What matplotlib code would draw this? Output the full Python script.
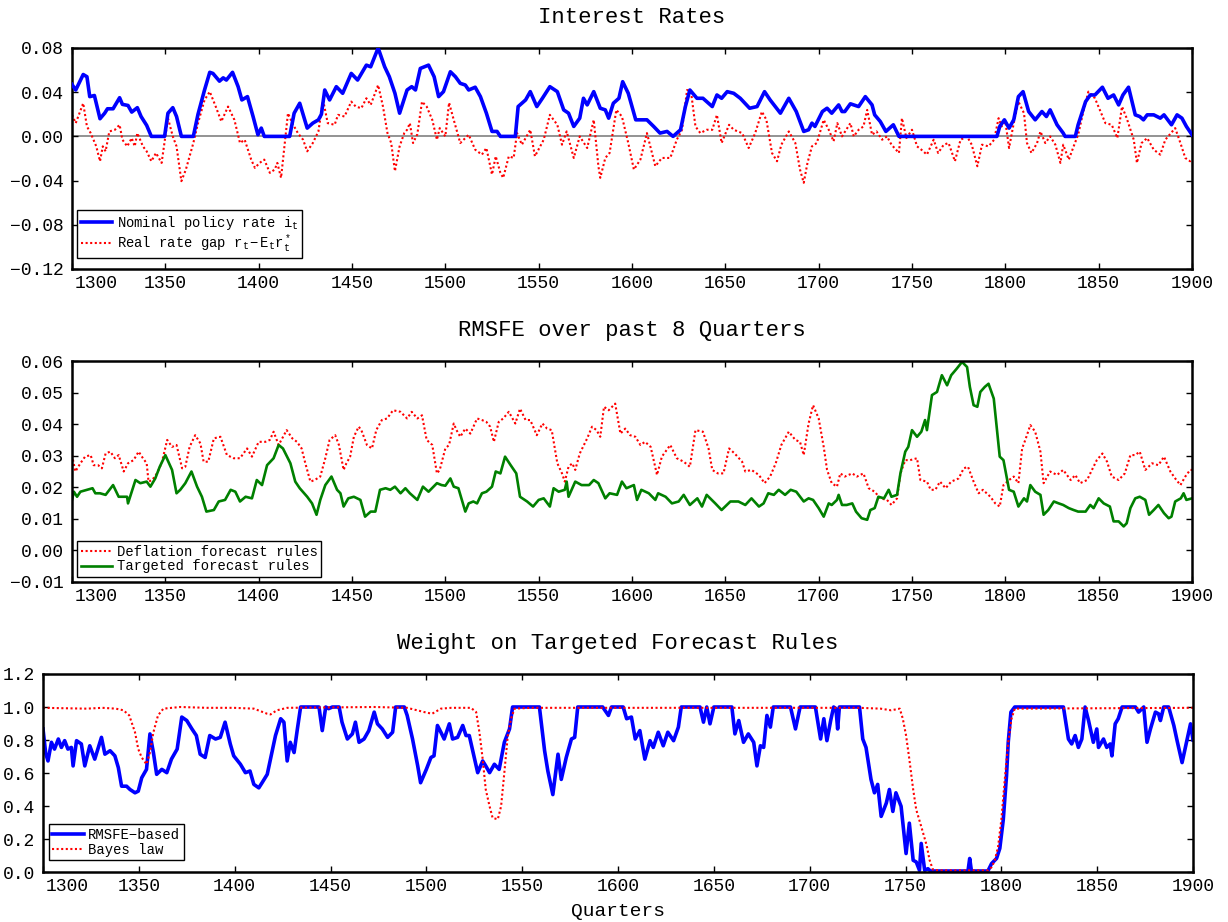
import numpy as np
import matplotlib
matplotlib.use("Agg")
import matplotlib.pyplot as plt
from matplotlib.transforms import ScaledTranslation

# ---- Interest rates panel ----
rate_q = [1300, 1302, 1306, 1308, 1309.5, 1312, 1315, 1317.5, 1319, 1322, 1325.5, 1327, 1330, 1332, 1335, 1337,
          1340, 1342.5, 1349.6, 1351.4, 1354, 1356, 1358.6, 1365, 1367.5, 1371, 1373.8, 1375.5, 1379, 1381, 1382.7,
          1386, 1389, 1391, 1394, 1397, 1399.6, 1401.4, 1403, 1416.6, 1419, 1422, 1426, 1429, 1432, 1433.6, 1435.4,
          1438, 1441.6, 1445, 1449.6, 1453, 1457.7, 1460, 1464, 1467.5, 1470, 1473, 1475.5, 1479.5, 1482, 1484,
          1486.6, 1491, 1494, 1496.4, 1499, 1502.7, 1505.4, 1508, 1510.7, 1512.5, 1516, 1518.8, 1522, 1525, 1527.7,
          1529.5, 1537.5, 1539, 1543, 1545.5, 1549, 1552, 1556, 1560, 1563.4, 1566, 1568.8, 1572, 1574, 1576, 1579.5,
          1583, 1585.7, 1587.5, 1590, 1593, 1595, 1598, 1602, 1608, 1611.6, 1615, 1618.8, 1622, 1626, 1628.6, 1631,
          1634.8, 1638, 1643, 1645.5, 1648, 1651, 1654.5, 1658, 1663, 1667, 1671, 1674, 1679.5, 1684, 1688, 1692,
          1694.6, 1696.4, 1698, 1702, 1704.5, 1707, 1710.7, 1712.5, 1714, 1717, 1721.4, 1725, 1728.6, 1730, 1733,
          1736, 1740, 1743, 1795.5, 1797, 1799.5, 1802, 1804.5, 1807, 1809.5, 1812.5, 1816, 1819.6, 1822, 1824,
          1827.7, 1831, 1832, 1837.5, 1839, 1843, 1845.5, 1848, 1852, 1855, 1858, 1860.7, 1863, 1866, 1869.6, 1872,
          1874, 1876, 1879.5, 1883, 1885, 1889, 1892, 1894.6, 1897, 1900]
rate_v = [.047, .042, .056, .054, .036, .037, .016, .021, .025, .025, .035, .029, .028, .022, .026, .018,
          .010, 0, 0, .021, .026, .018, 0, 0, .020, .042, .058, .057, .050, .053, .051,
          .058, .045, .033, .036, .018, .0015, .0075, 0, 0, .021, .030, .0075, .012, .015, .020, .042,
          .033, .045, .039, .057, .051, .0645, .063, .080, .063, .054, .039, .021, .042, .045, .042,
          .0615, .0645, .054, .036, .0405, .0585, .054, .048, .0465, .042, .0445, .036, .021, .0045, .0045,
          0, 0, .027, .033, .0405, .027, .0345, .045, .0405, .024, .021, .009, .0165, .0345, .0285, .0405,
          .0255, .024, .0165, .030, .0345, .0495, .039, .015, .015, .009, .003, .0045, 0, .006, .027, .042,
          .0345, .0345, .027, .0375, .0345, .0405, .039, .0345, .0255, .027, .0405, .033, .021, .0345, .0225, .0045,
          .006, .012, .009, .0225, .0255, .021, .0285, .0225, .0225, .0295, .027, .036, .0285, .0195, .0135,
          .0045, .0105, 0, 0, .009, .015, .0075, .015, .036, .0405, .0225, .015, .0225, .018, .024,
          .0105, .003, 0, 0, .0105, .0315, .0375, .0375, .0445, .0345, .0375, .0285, .0375, .0445, .0195, .018,
          .015, .0195, .0195, .0165, .0195, .0105, .0195, .0165, .009, .0015]

gap_q = [1300, 1302, 1306, 1308, 1310, 1313, 1315, 1316.5, 1318, 1320, 1323, 1325.5, 1327, 1329.6, 1332, 1333.6,
         1335, 1338, 1340, 1342.5, 1345, 1348, 1351.4, 1354, 1356, 1358.6, 1361, 1365, 1367.5, 1371, 1373.8, 1377,
         1380, 1383.6, 1387, 1390, 1392.5, 1396, 1398, 1400.5, 1403, 1406, 1408.6, 1410, 1412, 1415.7, 1418, 1421,
         1423.8, 1426, 1429, 1432, 1434.5, 1437, 1440.7, 1442.5, 1446, 1449.6, 1452, 1455, 1457.7, 1460, 1464,
         1466.6, 1469, 1471, 1473, 1475.5, 1478, 1479.5, 1481, 1482.7, 1485, 1487.5, 1490, 1493, 1495.5, 1497, 1500,
         1502, 1504.5, 1508, 1512.5, 1516, 1519.6, 1522, 1525, 1527, 1529.5, 1531, 1534, 1536.6, 1538.4, 1541,
         1545.5, 1548, 1552.7, 1556, 1560, 1562.5, 1565, 1568.8, 1572, 1576, 1579.5, 1582, 1583, 1585.7, 1588,
         1591.6, 1594.6, 1598, 1601, 1604.5, 1608, 1612.5, 1616, 1620.5, 1624, 1626.8, 1629.5, 1631.6, 1634, 1636.6,
         1640, 1643, 1645.5, 1648, 1652, 1654.5, 1659, 1662.5, 1666, 1669.6, 1672, 1675, 1677.7, 1680, 1684, 1687.5,
         1690, 1692, 1694, 1696.4, 1699, 1702.7, 1705.4, 1708, 1710, 1712.5, 1717, 1718.8, 1721.4, 1724, 1726,
         1728.6, 1731, 1734, 1736.6, 1739, 1743, 1744.6, 1747, 1750, 1752.7, 1755, 1758, 1761.6, 1764, 1767, 1769.6,
         1773, 1776, 1779.5, 1782, 1785, 1787.5, 1791, 1794, 1796.4, 1798, 1800, 1802, 1804.5, 1807, 1810, 1811.6,
         1814, 1817, 1818.8, 1821.4, 1824, 1826.8, 1829.5, 1831, 1834, 1836.6, 1839, 1842, 1844.5, 1848, 1851,
         1853.6, 1857, 1860, 1862.5, 1865, 1868.8, 1870.5, 1873, 1876, 1879.5, 1883, 1885.7, 1888, 1891, 1893.8,
         1896.4, 1899, 1900]
gap_v = [.0195, .012, .030, .009, .003, -.009, -.0225, -.009, -.0135, .0045, .006, .0105, -.003, -.009, -.0015, -.009,
         .003, -.009, -.0135, -.0225, -.015, -.024, .0165, 0, -.009, -.0405, -.030, -.006, .012, .033, .0405, .027,
         .0135, .027, .015, -.006, -.003, -.021, -.0285, -.024, -.021, -.033, -.030, -.024, -.0375, .021, .012, .003,
         -.003, -.0135, -.006, .0045, .033, .012, .0105, .0195, .018, .0315, .027, .0255, .0345, .0285, .0465,
         .027, .003, -.006, -.0315, -.009, .003, .006, .012, -.006, .002, .0315, .027, .015, -.003, .0075, 0,
         .0305, .015, -.006, .0015, -.012, -.0165, -.0105, -.0345, -.018, -.033, -.0375, -.018, -.0195, .003, -.0075,
         .006, -.018, -.003, .0195, .0105, -.0075, .0045, -.0195, 0, -.0105, .015, -.027, -.0375, -.0195, -.015,
         .024, .018, -.006, -.030, -.021, .003, -.027, -.0195, -.0195, -.003, .006, .042, .0405, .009, .003,
         .006, .006, .0195, -.006, .0105, .006, .003, -.0105, .003, .0225, .015, -.015, -.0225, -.0075, .0045, -.006,
         -.030, -.042, -.024, -.009, -.006, .015, .006, -.0045, .012, 0, .012, 0, .006, .009, .024,
         .0015, .0045, -.003, 0, -.0075, -.015, .0165, -.0015, .006, -.009, -.012, -.0165, -.003, -.015, -.0075, -.006,
         -.0225, -.003, 0, -.0075, -.027, -.0075, -.009, -.003, .0165, .009, .0135, -.0105, .012, .0315, .021, -.006,
         -.015, -.006, .0045, -.006, 0, -.0075, -.024, -.0075, -.021, -.009, .0015, .024, .0405, .0345, .0225,
         .012, .0105, -.0015, .027, .0165, -.003, -.024, -.006, -.0015, -.012, -.0165, -.003, .0015, .0075, -.006,
         -.0195, -.0225, -.021]

# ---- RMSFE panel ----
defl_q = [1300, 1301.8, 1304.5, 1307, 1310, 1311.6, 1314, 1316, 1318, 1320.5, 1323, 1325, 1327.7, 1330, 1333, 1335.7,
          1338, 1340, 1341, 1343, 1345.5, 1348, 1351, 1353.6, 1356, 1359, 1360.7, 1363, 1366, 1368.8, 1370.5, 1373,
          1376, 1379.5, 1383, 1386.6, 1390, 1393.8, 1396.4, 1400, 1403.6, 1406, 1408, 1410.7, 1415, 1418, 1420.5,
          1423, 1425, 1427.7, 1430, 1433, 1435.7, 1438, 1441, 1443, 1445.5, 1447, 1449, 1451, 1453.6, 1455, 1458,
          1460.7, 1463, 1466, 1468.8, 1472, 1476, 1479.5, 1482, 1485, 1487.5, 1490, 1493, 1495.5, 1497, 1500, 1502,
          1504.5, 1506, 1508, 1510.7, 1513.4, 1517, 1519.6, 1522, 1524, 1526, 1528.6, 1531, 1534, 1537.5, 1540, 1543,
          1545.5, 1549, 1552, 1554.5, 1557, 1560, 1562.5, 1564, 1566, 1568, 1569.6, 1572, 1576, 1578.6, 1581, 1583,
          1585, 1587.5, 1591, 1593.8, 1596.4, 1599, 1601.8, 1604.5, 1607, 1610, 1613.4, 1616, 1620.5, 1624, 1627.7,
          1631, 1634, 1638, 1641, 1643, 1646, 1649, 1652, 1655, 1659, 1660.7, 1664, 1668, 1671, 1674, 1677, 1680,
          1684, 1687.5, 1690, 1692, 1694.6, 1697, 1700, 1702.7, 1704.5, 1707, 1709.8, 1711.6, 1714, 1718, 1720.5,
          1724, 1726.8, 1730, 1733, 1736.6, 1739, 1742, 1743.8, 1746.4, 1749, 1752.7, 1754.5, 1758, 1760, 1762.5,
          1765, 1768, 1771, 1775, 1777.7, 1780, 1783, 1785.7, 1788, 1792, 1794.6, 1797, 1799, 1802, 1804.5, 1807,
          1809, 1810.7, 1813.4, 1816, 1818.8, 1820.5, 1824, 1827.7, 1831, 1835, 1837.5, 1840, 1843.8, 1846.4, 1849,
          1852, 1854.5, 1857, 1860.7, 1864, 1867, 1869.6, 1872, 1875, 1878.6, 1882, 1885, 1888.4, 1891, 1893.8,
          1896.4, 1899, 1900]
defl_v = [.0302, .025, .0276, .0297, .0302, .027, .027, .026, .0307, .0313, .0292, .0302, .025, .0276, .0286, .0313,
          .0292, .0276, .0218, .0223, .0244, .0276, .035, .0328, .0334, .026, .0265, .0328, .0365, .0339, .0281, .0281,
          .0355, .036, .0302, .0292, .0292, .0323, .0297, .0344, .0344, .035, .0376, .0334, .0381, .0355, .0344,
          .0323, .0276, .0218, .0223, .0234, .0292, .035, .0365, .0334, .0255, .0276, .0297, .036, .0392, .0381, .0334,
          .0323, .0381, .0413, .0418, .0444, .0439, .0418, .0439, .0418, .0428, .035, .0334, .0244, .0255, .0323, .0334,
          .0402, .0381, .036, .0386, .037, .0418, .0413, .0407, .0392, .0344, .0407, .0418, .0439, .0402, .0449, .0413,
          .0413, .0365, .0402, .0386, .0381, .0276, .0244, .0218, .0265, .0276, .0255, .0307, .0355, .0392, .0381, .036,
          .0455, .0444, .0465, .037, .0386, .0365, .036, .0334, .0344, .0328, .0239, .0297, .0334, .0292, .0281,
          .0265, .0381, .0376, .0323, .0255, .0244, .0244, .0323, .0307, .0281, .025, .0255, .0239, .0213, .0234, .0276,
          .0334, .0376, .035, .0344, .0302, .0402, .046, .0418, .0328, .0255, .0213, .0202, .0244, .0234, .0244, .0234,
          .0244, .0197, .0186, .0165, .016, .0144, .0165, .0244, .0286, .0286, .0292, .0223, .0218, .0192, .0192,
          .0218, .0197, .0218, .0228, .026, .0265, .0218, .0181, .0192, .017, .0149, .0139, .0207, .0223, .0234, .0213,
          .0323, .035, .0397, .0376, .0313, .0213, .025, .0239, .0255, .0223, .0239, .0213, .0223, .0255, .0286,
          .0307, .0281, .0234, .0223, .0244, .0302, .0302, .0313, .0255, .0276, .027, .0297, .025, .0228, .0207,
          .0234, .0255, .0255]

targ_q = [1300, 1301, 1302.7, 1304.5, 1308, 1311, 1312.5, 1315, 1318, 1322, 1325, 1329.5, 1330, 1332, 1334, 1336.6,
          1340, 1342, 1344.6, 1347, 1350, 1353.6, 1356, 1358, 1360.7, 1364, 1367, 1369.6, 1372, 1376, 1378.6, 1382,
          1385, 1387.5, 1390, 1393, 1396.4, 1399, 1401.8, 1404.5, 1408, 1410.7, 1413, 1417, 1419.6, 1422, 1426,
          1428.6, 1431, 1433, 1435.7, 1439, 1442, 1443.8, 1445.5, 1448, 1451, 1454.5, 1457, 1460, 1462.5, 1465, 1468,
          1470.5, 1473, 1476, 1478.6, 1481, 1485, 1488, 1491, 1495.5, 1498, 1500, 1502.7, 1504.5, 1507, 1510.7,
          1512.5, 1515, 1517, 1519.6, 1522, 1525, 1527, 1529.5, 1532, 1535, 1538, 1540, 1543.8, 1547, 1550, 1552.7,
          1556, 1558, 1560.7, 1564, 1565, 1566, 1569.6, 1573, 1577, 1579.5, 1582, 1585.7, 1588, 1592, 1594.6, 1597,
          1601, 1602.7, 1605, 1609, 1612.5, 1614, 1618, 1621.4, 1625, 1627.7, 1631, 1635, 1637.5, 1640, 1644.6, 1648,
          1652.7, 1657, 1660.7, 1664, 1668, 1670.5, 1673, 1676, 1678.6, 1682, 1685, 1688, 1692, 1694.6, 1697, 1700,
          1702.7, 1705.4, 1707, 1709.8, 1710.7, 1712.5, 1715, 1718, 1720, 1723, 1726, 1727.7, 1730, 1732, 1735,
          1737.5, 1739, 1742, 1743.8, 1746.4, 1748, 1750, 1752.7, 1755, 1757, 1758, 1760.7, 1763.4, 1766, 1768.8,
          1771, 1774, 1776.8, 1779.5, 1781, 1783, 1785, 1786.6, 1789, 1791, 1793.8, 1797, 1799, 1802, 1804.5, 1807,
          1810, 1811.6, 1813.4, 1816, 1818.8, 1820.5, 1823, 1826, 1828.6, 1831, 1834, 1836.6, 1839, 1843, 1845.5,
          1847.3, 1850, 1852.7, 1856, 1858, 1860.7, 1863.4, 1865, 1867, 1869.6, 1872, 1875, 1877, 1879.5, 1882, 1885,
          1887.5, 1889, 1891, 1894, 1895.5, 1897, 1900]
targ_v = [.016, .0186, .017, .0186, .0192, .0197, .0181, .0181, .0176, .0207, .017, .017, .0149, .0186, .0223, .0213,
          .0218, .0202, .0228, .0265, .0302, .0255, .0181, .0192, .0213, .025, .0202, .017, .0123, .0128, .0155, .016,
          .0192, .0186, .0155, .017, .0165, .0223, .0207, .027, .0292, .0334, .0323, .0276, .0218, .0197, .017,
          .0149, .0113, .016, .0207, .0234, .0192, .0181, .0139, .0165, .017, .016, .0107, .0123, .0123, .0192, .0197,
          .0192, .0202, .0181, .0197, .0181, .016, .0202, .0186, .0213, .0207, .0205, .0228, .0202, .0197, .0123,
          .0149, .0155, .0149, .0181, .0186, .0202, .025, .0244, .0297, .027, .0244, .017, .0155, .0139, .016, .0165,
          .0139, .0197, .0186, .0192, .0218, .017, .0218, .0207, .0207, .0223, .0213, .0165, .0181, .0176, .0218, .0197,
          .0207, .016, .0192, .0181, .016, .0181, .017, .0149, .0155, .0176, .0144, .0165, .0139, .0176, .0149, .0128,
          .0155, .0155, .0144, .0165, .0139, .0149, .0181, .0176, .0192, .0176, .0192, .0186, .0155, .0165, .016, .0134,
          .0107, .0149, .0144, .016, .0176, .0144, .0144, .0149, .0123, .0102, .0097, .0128, .0134, .017, .0165,
          .0192, .017, .0176, .0244, .0313, .0328, .0381, .036, .0376, .0413, .0381, .0492, .0502, .0555, .0523,
          .0555, .0576, .0597, .0581, .0518, .046, .0455, .0502, .0518, .0528, .0481, .0297, .0286, .0192, .0186, .0139,
          .0165, .0155, .0207, .0186, .0176, .0113, .0128, .0155, .0149, .0144, .0134, .0128, .0123, .0123, .0144,
          .0134, .0165, .0149, .0139, .0092, .0092, .0076, .0086, .0134, .0165, .017, .016, .0113, .0128, .0144, .0118,
          .0102, .0107, .0155, .0165, .0181, .016, .0165]

# ---- Weight panel ----
wrm_q = [1300, 1301.4, 1302.6, 1304.4, 1306, 1308, 1309.6, 1311.3, 1313, 1314.8, 1315.7, 1317.5, 1320, 1321.8, 1324.4,
         1327, 1330.5, 1332.3, 1335, 1337.5, 1339.3, 1341, 1343.6, 1345.4, 1348, 1349.7, 1351.5, 1354, 1355.8, 1357.6,
         1359.3, 1362, 1364.6, 1367, 1370, 1372.4, 1375, 1377.7, 1380, 1382, 1384.6, 1387, 1390, 1392.5, 1395, 1397.7,
         1399.5, 1403, 1405.6, 1408, 1410, 1412.6, 1414.3, 1417, 1418.7, 1421.3, 1424, 1425.7, 1427.4, 1429, 1431,
         1432.6, 1434.4, 1444, 1445.7, 1447.5, 1449, 1451, 1454.5, 1456, 1458.8, 1461.4, 1463, 1464.9, 1467.5, 1470,
         1472.8, 1474.5, 1477, 1479.8, 1482.4, 1484, 1488.5, 1490, 1492.8, 1495.5, 1497, 1500, 1502.4, 1504, 1505.8,
         1507.6, 1509.3, 1512, 1513.7, 1516.3, 1519, 1520.7, 1522.4, 1524, 1526.8, 1529.4, 1531, 1533, 1535.5, 1538,
         1540.7, 1543.4, 1545, 1559, 1561.7, 1563.4, 1566, 1568.7, 1570.4, 1573, 1575.7, 1577.4, 1579, 1592, 1595,
         1596.6, 1602.7, 1604.5, 1607, 1609, 1611.4, 1614, 1616.7, 1618.4, 1621, 1623.6, 1626, 1629, 1631.5, 1633,
         1642.8, 1644.6, 1646.3, 1648, 1650, 1659.4, 1661, 1663, 1665.5, 1668, 1670.8, 1672.5, 1674.3, 1676, 1677.7,
         1679.5, 1681, 1690, 1692.6, 1695, 1703, 1705.7, 1707.4, 1709, 1711, 1712.5, 1713.7, 1714.6, 1715.5, 1726,
         1727.7, 1729.4, 1732, 1733.8, 1735.5, 1737.3, 1740, 1741.6, 1743.4, 1745, 1747.7, 1750.3, 1752, 1754,
         1755.6, 1757.3, 1758.2, 1760, 1761.7, 1763, 1782.6, 1783.5, 1784.4, 1793, 1794.9, 1797.5, 1799.2, 1801,
         1802.7, 1803.6, 1805, 1807, 1832.4, 1835, 1836.7, 1838.5, 1840.2, 1842, 1843.7, 1845.5, 1848, 1849.8, 1850.7,
         1853.3, 1855, 1856.8, 1857.7, 1859.4, 1861, 1863, 1870, 1871.6, 1874.3, 1876, 1877.8, 1880.4, 1882, 1883,
         1884.7, 1887.3, 1890, 1891.7, 1894.3, 1897, 1898.7, 1900]
wrm_v = [.867, .72, .673, .786, .745, .806, .755, .796, .745, .755, .643, .796, .776, .643, .765,
         .684, .816, .714, .735, .704, .633, .52, .52, .50, .48, .49, .571, .622, .837, .724,
         .592, .622, .602, .684, .745, .939, .918, .867, .827, .714, .694, .827, .806, .816, .908, .776,
         .704, .653, .602, .612, .531, .51, .541, .592, .684, .827, .929, .908, .673, .786, .724,
         .857, 1.0, 1.0, .857, 1.0, .99, 1.0, 1.0, .908, .806, .837, .908, .786, .806, .857,
         .969, .898, .867, .816, .847, 1.0, 1.0, .949, .806, .643, .541, .622, .694, .704, .888,
         .847, .806, .898, .806, .816, .888, .827, .827, .745, .602, .673, .643, .602, .653, .622,
         .786, .867, 1.0, 1.0, .735, .612, .469, .714, .561, .694, .806, .816, 1.0, 1.0, .949,
         1.0, 1.0, .929, .939, .806, .857, .684, .796, .755, .847, .765, .847, .796, .878, 1.0,
         1.0, .908, 1.0, .898, 1.0, 1.0, .837, .918, .786, .837, .786, .643, .765, .755, .949,
         .878, 1.0, 1.0, .867, 1.0, 1.0, .806, .929, .796, .92, 1.0, .99, .867, 1.0, 1.0,
         .806, .755, .561, .48, .531, .337, .418, .50, .367, .48, .398, .112, .296, .071,
         .061, .01, .173, .01, .02, .006, .006, .082, .006, .006, .051, .082, .143, .316,
         .582, .786, .969, 1.0, 1.0, .806, .776, .827, .755, .806, 1.0, .918, .786, .867, .755,
         .806, .755, .776, .704, .898, .929, 1.0, 1.0, .969, 1.0, .786, .867, .969, .959, .918,
         1.0, 1.0, .888, .796, .663, .806, .898, .80]

bayes_q = [1300, 1322.7, 1331, 1338, 1342, 1345, 1348, 1349.7, 1351.5, 1354, 1355.8, 1357.6, 1360, 1362.8, 1371.6,
           1385.5, 1399.5, 1410, 1417, 1418.7, 1422, 1427.4, 1472.8, 1490, 1499, 1503, 1507.6, 1513, 1523.3, 1526,
           1527.7, 1529.4, 1531, 1533, 1534.6, 1537.3, 1539, 1540.7, 1542.5, 1544.2, 1546, 1554.7, 1700, 1726, 1737,
           1742.5, 1747, 1748.6, 1750.3, 1752, 1754, 1755.6, 1758.2, 1761, 1762.6, 1764.3, 1767, 1793, 1795, 1796.6,
           1798.3, 1800, 1801.8, 1803.6, 1805.3, 1807, 1900]
bayes_v = [.995, .99, .995, .99, .98, .949, .847, .745, .694, .653, .724, .847, .949, .99, 1.0,
           .995, .995, .99, .959, .955, .98, .995, 1.0, .995, .969, .959, .99, .995, .995, .969,
           .847, .684, .50, .398, .327, .32, .398, .602, .827, .929, .99, .995, .995, .995, .99,
           .98, .99, .929, .827, .684, .50, .378, .276, .163, .071, .014, .01, .01, .03, .071,
           .153, .316, .561, .786, .929, .99, .995]

xticks = list(range(1300, 1901, 50))
blue, red, green = "#0000ff", "#ff0000", "#008000"
dots = (0, (1, 1.2))

plt.rcParams.update({
    "font.family": ["Liberation Mono", "DejaVu Sans Mono"],
    "mathtext.fontset": "custom",
    "mathtext.rm": "Liberation Mono",
    "mathtext.it": "Liberation Mono",
    "mathtext.default": "rm",
    "axes.linewidth": 1.8,
    "xtick.direction": "in", "ytick.direction": "in",
    "xtick.top": True, "ytick.right": True,
    "xtick.major.size": 4, "ytick.major.size": 4,
    "xtick.major.width": 1.0, "ytick.major.width": 1.0,
    "xtick.labelsize": 13, "ytick.labelsize": 13,
    "xtick.major.pad": 4, "ytick.major.pad": 6,
})

W, H = 1228, 922
fig = plt.figure(figsize=(W / 100, H / 100), dpi=100)


def box(l, t, r, b):
    return [l / W, 1 - b / H, (r - l) / W, (b - t) / H]


def fmt(vals, nd):
    out = []
    for v in vals:
        s = f"{v:.{nd}f}"
        if abs(v) < 1e-9:
            s = f"{0:.{nd}f}"
        out.append(s.replace("-", "\u2212"))
    return out


ax1 = fig.add_axes(box(72, 48, 1192, 269))
ax2 = fig.add_axes(box(72, 361, 1192, 582))
ax3 = fig.add_axes(box(43, 674, 1193, 872))

ax1.axhline(0, color="#808080", lw=1.2, zorder=1)
ax1.plot(rate_q, rate_v, color=blue, lw=2.6, label="Nominal policy rate $i_t$", zorder=3)
ax1.plot(gap_q, gap_v, color=red, lw=1.5, ls=dots, label="Real rate gap $r_t\u2212E_tr_t^*$", zorder=2)
ax1.set_ylim(-0.12, 0.08)
yt1 = np.arange(-0.12, 0.081, 0.04)
ax1.set_yticks(yt1)
ax1.set_yticklabels(fmt(yt1, 2))
ax1.set_title("Interest Rates", fontsize=16, pad=18)

ax2.plot(defl_q, defl_v, color=red, lw=1.5, ls=dots, label="Deflation forecast rules")
ax2.plot(targ_q, targ_v, color=green, lw=1.9, label="Targeted forecast rules")
ax2.set_ylim(-0.01, 0.06)
yt2 = np.arange(-0.01, 0.061, 0.01)
ax2.set_yticks(yt2)
ax2.set_yticklabels(fmt(yt2, 2))
ax2.set_title("RMSFE over past 8 Quarters", fontsize=16, pad=18)

ax3.plot(wrm_q, wrm_v, color=blue, lw=2.6, label="RMSFE\u2212based")
ax3.plot(bayes_q, bayes_v, color=red, lw=1.5, ls=dots, label="Bayes law")
ax3.set_ylim(0, 1.2)
yt3 = np.arange(0, 1.21, 0.2)
ax3.set_yticks(yt3)
ax3.set_yticklabels(fmt(yt3, 1))
ax3.set_title("Weight on Targeted Forecast Rules", fontsize=16, pad=18)
ax3.set_xlabel("Quarters", fontsize=14, labelpad=6)

legpos = {ax1: (0.0045, 0.05), ax2: (0.0045, 0.023), ax3: (0.005, 0.06)}
for ax in (ax1, ax2, ax3):
    ax.set_xlim(1300, 1900)
    ax.set_xticks(xticks)
    ax.set_xticklabels([str(t) for t in xticks])
    # first tick label sits a little to the right in the original
    lab = ax.get_xticklabels()[0]
    lab.set_transform(lab.get_transform() + ScaledTranslation(0.24, 0, fig.dpi_scale_trans))
    leg = ax.legend(loc="lower left", bbox_to_anchor=legpos[ax], borderaxespad=0, fontsize=10,
                    fancybox=False, framealpha=1, edgecolor="black", handlelength=2.3,
                    handletextpad=0.3, labelspacing=0.05, borderpad=0.25)
    leg.get_frame().set_linewidth(1.0)

fig.savefig("out.png", dpi=100)
